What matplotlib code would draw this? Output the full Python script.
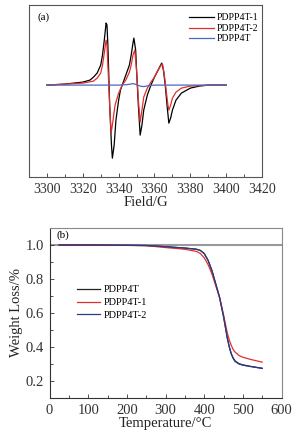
import matplotlib
matplotlib.use('Agg')
import matplotlib.pyplot as plt
import matplotlib.ticker as tkr

plt.rcParams['font.family'] = ['Liberation Serif', 'DejaVu Serif']

# (a) EPR spectra, arbitrary intensity
field_1 = [3300, 3310, 3320, 3324, 3326, 3328, 3330, 3331, 3332, 3333, 3333.5,
           3334, 3335, 3336, 3336.5, 3337.5, 3338.5, 3340, 3341, 3342, 3343,
           3344, 3346, 3347, 3348, 3348.5, 3349.5, 3350, 3351, 3352, 3353,
           3354, 3356, 3358, 3360, 3362, 3364, 3365, 3366, 3367, 3368, 3369,
           3370, 3372, 3375, 3380, 3385, 3390, 3400]
epr_1 = [0, 1, 3, 5, 8, 12, 20, 30, 45, 62, 60,
         40, -20, -60, -73, -60, -35, -15, -5, 0, 5,
         10, 20, 30, 42, 47, 35, 15, -20, -50, -40,
         -25, -10, 0, 8, 15, 22, 15, 0, -20, -38, -33,
         -25, -15, -8, -3, -1, 0, 0]

field_2 = [3300, 3320, 3326, 3328, 3330, 3331, 3332, 3333, 3333.5, 3334,
           3335, 3335.8, 3336.5, 3338, 3340, 3342, 3344, 3346, 3347, 3348,
           3349, 3350, 3351, 3352, 3353, 3354, 3356, 3358, 3360, 3362,
           3364, 3364.5, 3365.5, 3366.5, 3367.5, 3368, 3369, 3370, 3372,
           3375, 3380, 3390, 3400]
epr_2 = [0, 2, 4, 7, 12, 20, 32, 45, 40, 20,
         -20, -48, -40, -20, -8, 0, 5, 13, 20, 30,
         35, 15, -15, -37, -25, -12, -3, 3, 8, 15,
         21, 21, 10, -5, -20, -25, -20, -13, -7,
         -3, -1, 0, 0]

field_0 = [3300, 3340, 3345, 3348, 3350, 3352, 3354, 3357, 3360, 3400]
epr_0 = [0, 0, 0.5, 1.5, 0.5, -1, -1.5, -0.5, 0, 0]

# (b) TGA curves
temp = [25, 100, 200, 250, 300, 350, 380, 390, 400, 410, 420, 430, 440,
        450, 460, 465, 470, 475, 480, 490, 500, 520, 550]
tga_0 = [1.0, 1.0, 0.998, 0.997, 0.99, 0.982, 0.975, 0.968, 0.95, 0.91,
         0.85, 0.77, 0.69, 0.58, 0.45, 0.40, 0.36, 0.335, 0.318, 0.302,
         0.295, 0.286, 0.275]
tga_1 = [1.0, 1.0, 0.998, 0.996, 0.985, 0.975, 0.962, 0.95, 0.925, 0.885,
         0.83, 0.76, 0.69, 0.59, 0.48, 0.44, 0.41, 0.385, 0.37, 0.35,
         0.34, 0.327, 0.311]
tga_2 = [1.0, 1.0, 0.998, 0.997, 0.99, 0.982, 0.975, 0.968, 0.95, 0.91,
         0.85, 0.77, 0.69, 0.58, 0.45, 0.40, 0.36, 0.333, 0.315, 0.30,
         0.293, 0.285, 0.274]

fig = plt.figure(figsize=(3.04, 4.44), dpi=100)

ax1 = fig.add_axes([0.0954, 0.601, 0.7666, 0.3876])
ax1.plot(field_1, epr_1, color='black', lw=0.9, label='PDPP4T-1')
ax1.plot(field_2, epr_2, color='#e0302b', lw=0.9, label='PDPP4T-2')
ax1.plot(field_0, epr_0, color='#4a68c0', lw=0.9, label='PDPP4T')
ax1.set_xlim(3290, 3420)
ax1.set_ylim(-92, 80)
ax1.set_yticks([])
ax1.xaxis.set_major_locator(tkr.MultipleLocator(20))
ax1.xaxis.set_minor_locator(tkr.MultipleLocator(10))
ax1.tick_params(axis='x', which='both', direction='in', labelsize=10,
                colors='#333333', length=3, width=0.6, pad=4)
ax1.tick_params(axis='x', which='minor', length=2)
ax1.set_xlabel('Field/G', fontsize=10.5, labelpad=0, color='#222222')
for s in ax1.spines.values():
    s.set_color('#555555')
    s.set_linewidth(0.8)
ax1.text(0.035, 0.96, '(a)', transform=ax1.transAxes, fontsize=8,
         va='top', ha='left')
ax1.legend(loc='upper right', frameon=False, fontsize=7, handlelength=2.6,
           handletextpad=0.3, labelspacing=0.15, borderaxespad=0.2,
           bbox_to_anchor=(1.01, 0.985))

ax2 = fig.add_axes([0.163, 0.1036, 0.763, 0.3829])
ax2.axhline(1.0, color='#999999', lw=1.5, zorder=1)
ax2.plot(temp, tga_0, color='#222222', lw=0.9, label='PDPP4T', zorder=2)
ax2.plot(temp, tga_1, color='#e0302b', lw=0.9, label='PDPP4T-1', zorder=2)
ax2.plot(temp, tga_2, color='#2a3a8a', lw=0.9, label='PDPP4T-2', zorder=3)
ax2.set_xlim(0, 600)
ax2.set_ylim(0.1, 1.1)
ax2.xaxis.set_major_locator(tkr.MultipleLocator(100))
ax2.xaxis.set_minor_locator(tkr.MultipleLocator(50))
ax2.yaxis.set_major_locator(tkr.FixedLocator([0.2, 0.4, 0.6, 0.8, 1.0]))
ax2.yaxis.set_minor_locator(tkr.FixedLocator([0.3, 0.5, 0.7, 0.9]))
ax2.yaxis.set_major_formatter(tkr.FormatStrFormatter('%.1f'))
ax2.tick_params(which='both', direction='in', labelsize=10.5,
                colors='#333333', length=3, width=0.6, pad=4)
ax2.tick_params(which='minor', length=2)
ax2.set_xlabel('Temperature/°C', fontsize=10.5, labelpad=0, color='#222222')
ax2.set_ylabel('Weight Loss/%', fontsize=10.5, labelpad=2, color='#222222')
for name, s in ax2.spines.items():
    s.set_linewidth(0.8)
    s.set_color('#333333' if name in ('left', 'bottom') else '#888888')
ax2.text(0.03, 0.985, '(b)', transform=ax2.transAxes, fontsize=8,
         va='top', ha='left')
ax2.legend(loc='upper left', frameon=False, fontsize=7.5, handlelength=2.2,
           handletextpad=0.3, labelspacing=0.35,
           bbox_to_anchor=(0.08, 0.72))

fig.savefig('out.png', dpi=100)
